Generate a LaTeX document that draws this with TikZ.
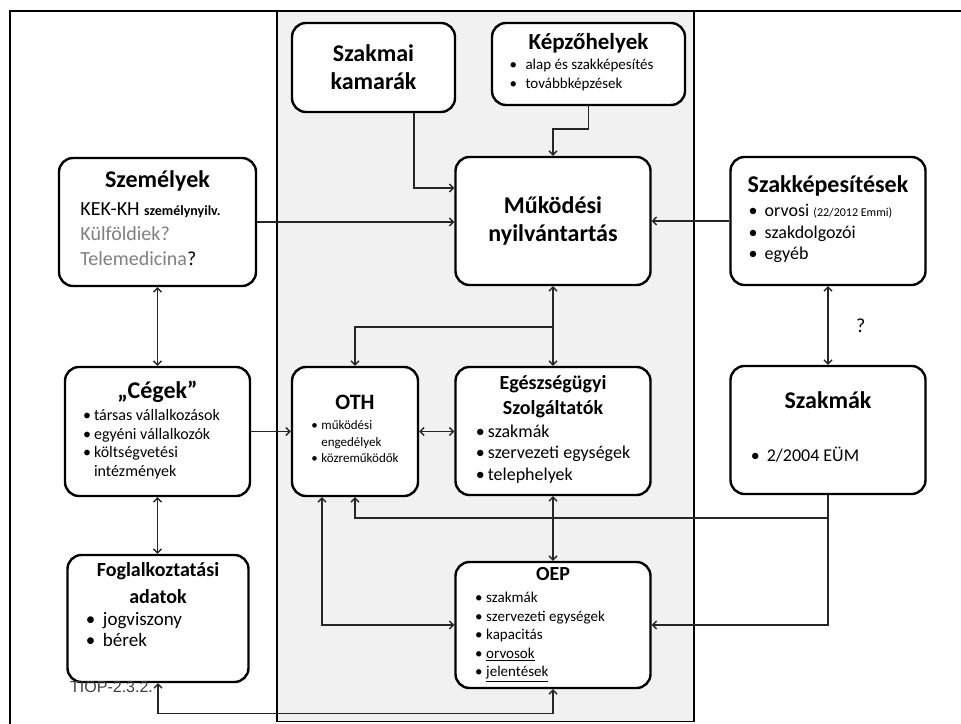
\documentclass[tikz,border=0pt]{standalone}
\usepackage{fontspec}
\setmainfont{Carlito}
\newfontfamily\arialfont{Liberation Sans}
\usetikzlibrary{arrows.meta}

% heading line in a box, optional size
\newcommand\hd[2][24]{{\fontsize{#1}{28}\selectfont\bfseries #2}}
% bullet list: [right pad]{bullet column}{rows}
\newcommand\blist[3][0pt]{\begin{tabular}[t]{@{}p{#2}@{}l@{\hspace{#1}}}#3\end{tabular}}

\tikzset{
  box/.style={draw, line width=2.4pt, rounded corners=14pt, fill=white, align=center,
    font=\fontsize{24}{28}\selectfont},
  conn/.style={line width=1.4pt, black!85},
}

\begin{document}
\begin{tikzpicture}[x=1pt, y=1pt, >={Straight Barb[length=4pt,width=8pt]}]
    \useasboundingbox (0,0) rectangle (961,723);
    % frame and shaded middle panel
    \draw[line width=2pt] (10,-10) rectangle (975,712);
    \draw[fill=gray!11, line width=1.5pt] (277,1.5) rectangle (694,712);

    %nodes
    \node[box, minimum width=163, minimum height=89] (kamarak) at (373.5,655.5)
        {\hd{Szakmai}\\\hd{kamarák}};
    \node[box, minimum width=193, minimum height=82] (kepzo) at (588.5,659)
        {\hd[23]{Képzőhelyek}\\[-8pt]{\fontsize{15}{19}\selectfont\blist[14pt]{16pt}{\textbullet & alap és szakképesítés\\\textbullet & továbbképzések}}};
    \node[box, minimum width=197, minimum height=128] (szemelyek) at (157.5,501)
        {\hd{Személyek}\\{\fontsize{20}{25}\selectfont\begin{tabular}[t]{@{}l@{\hspace{14pt}}}KEK-KH {\fontsize{14}{16}\selectfont\bfseries személynyilv.}\\\textcolor{gray}{Külföldiek?}\\\textcolor{gray}{Telemedicina}?\end{tabular}}};
    \node[box, minimum width=195, minimum height=128] (mukodesi) at (553,502)
        {\hd{Működési}\\\hd{nyilvántartás}};
    \node[box, minimum width=195, minimum height=128] (szakkep) at (828,502)
        {\hd{Szakképesítések}\\[-4pt]{\fontsize{18}{21.5}\selectfont\blist[15pt]{16pt}{\textbullet & orvosi {\fontsize{12}{14}\selectfont(22/2012 Emmi)}\\\textbullet & szakdolgozói\\\textbullet & egyéb}}};
    \node[box, minimum width=185, minimum height=129] (cegek) at (157.5,291.5)
        {\hd{„Cégek”}\\[-6pt]{\fontsize{16}{18.5}\selectfont\blist[12pt]{11pt}{\textbullet & társas vállalkozások\\\textbullet & egyéni vállalkozók\\\textbullet & költségvetési\\ & intézmények}}};
    \node[box, minimum width=126, minimum height=129] (oth) at (355,291.5)
        {\hd[22]{OTH}\\[-8pt]{\fontsize{13}{16.5}\selectfont\blist{10pt}{\textbullet & működési\\ & engedélyek\\\textbullet & közreműködők}}};
    \node[box, minimum width=195, minimum height=128] (eu) at (553,292)
        {\hd[20]{Egészségügyi}\\[-3pt]\hd[20]{Szolgáltatók}\\[-5pt]{\fontsize{18}{21.5}\selectfont\blist{12pt}{\textbullet & szakmák\\\textbullet & szervezeti egységek\\\textbullet & telephelyek}}};
    \node[box, minimum width=195, minimum height=128] (szakmak) at (828,293)
        {\hd{Szakmák}\\[25pt]{\fontsize{18}{21}\selectfont\blist[46pt]{16pt}{\textbullet & 2/2004 EÜM}}};
    \node[box, minimum width=181, minimum height=127] (foglalk) at (158,104.5)
        {\hd[20]{Foglalkoztatási}\\[-1pt]\hd[20]{adatok}\\[-6pt]{\fontsize{19}{21}\selectfont\blist[48pt]{17pt}{\textbullet & jogviszony\\\textbullet & bérek}}\\[22pt]\mbox{}};
    \node[box, minimum width=195, minimum height=126] (oep) at (553,98)
        {\hd[20]{OEP}\\[-6pt]{\fontsize{15}{18.6}\selectfont\blist[26pt]{11pt}{\textbullet & szakmák\\\textbullet & szervezeti egységek\\\textbullet & kapacitás\\\textbullet & \underline{orvosok}\\\textbullet & \underline{jelentések}}}};
    \node[font=\arialfont\fontsize{16}{18}\selectfont, text=black!75, inner sep=0pt, anchor=base west] (tiop) at (70,31) {TIOP-2.3.2.};

    %connectors
    \begin{scope}[conn]
        \draw[->] ([xshift=40.5]kamarak.south) |- ([yshift=33]mukodesi.west);
        \draw[->] (szemelyek.east) -- (szemelyek.east -| mukodesi.west);
        \draw[->] (kepzo.south) -- ++(0,-23) -| (mukodesi.north);
        \draw[->] (szakkep.west) -- (mukodesi.east);
        \draw[<->] (mukodesi.south) -- (eu.north);
        \draw[->] (mukodesi.south) ++(0,-41) -| (oth.north);
        \draw[<->] (szemelyek.south) -- (cegek.north);
        \draw[->] (cegek.east) -- (oth.west);
        \draw[<->] (oth.east) -- (oth.east -| eu.west);
        \draw[<->] (cegek.south) -- (cegek.south |- foglalk.north);
        \draw[<->] (eu.south) -- (oep.north);
        \draw[<->] (szakkep.south) -- node[right=24pt, black, font=\fontsize{20}{24}\selectfont] (kerdes) {?} (szakmak.north);
        \draw[->] (szakmak.south) -- ++(0,-23) -| (oth.south);
        \draw[->] (szakmak.south) |- (oep.east);
        \draw[<->] ([xshift=-33]oth.south) |- (oep.west);
        \draw[<->] (foglalk.south) -- ++(0,-30) -| (oep.south);
    \end{scope}
\end{tikzpicture}
\end{document}
